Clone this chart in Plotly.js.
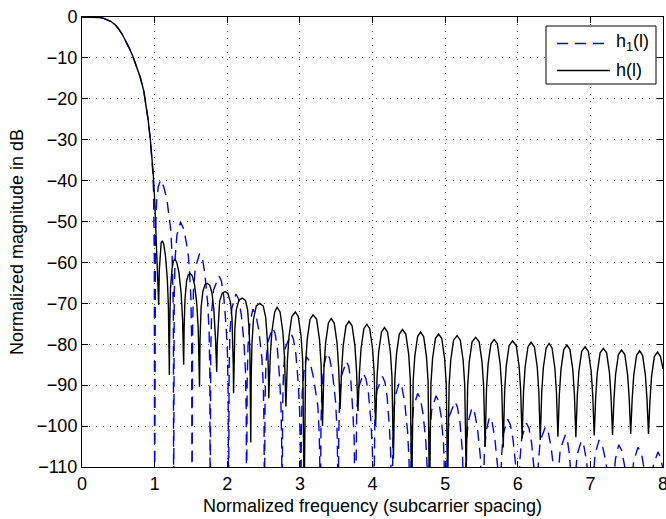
<!DOCTYPE html>
<html>
<head>
<meta charset="utf-8">
<script src="https://cdn.plot.ly/plotly-3.0.1.min.js"></script>
<style>
  html, body { margin: 0; padding: 0; background: #ffffff; }
  #chart { width: 666px; height: 519px; }
</style>
</head>
<body>
<div id="chart"></div>
<script>
// Values (normalized frequency, magnitude in dB)
var mainLobeFreq = [0, 0.1, 0.2, 0.25, 0.3, 0.35, 0.4, 0.45, 0.5, 0.55, 0.6, 0.65, 0.7, 0.75, 0.8, 0.85, 0.88, 0.91, 0.94, 0.96];
var mainLobeDb   = [0, 0, -0.05, -0.15, -0.35, -0.65, -1.1, -1.8, -2.8, -4.1, -5.8, -7.6, -9.6, -12.0, -14.6, -18.0, -21.3, -25.0, -29.8, -33.8];

// h(l): black solid curve, sidelobes after the main lobe
var hTailFreq = [
  0.98, 1.0, 1.02, 1.04, 1.056,
  1.064, 1.075, 1.09, 1.106, 1.125, 1.15, 1.175, 1.19, 1.197, 1.203,
  1.208, 1.218, 1.24, 1.26, 1.281, 1.305, 1.335, 1.365, 1.385, 1.395, 1.400,
  1.406, 1.418, 1.44, 1.465, 1.492, 1.52, 1.55, 1.58, 1.60, 1.612, 1.618,
  1.625, 1.64, 1.665, 1.695, 1.726, 1.76, 1.79, 1.815, 1.838, 1.848, 1.855,
  1.862, 1.875, 1.895, 1.93, 1.97, 2.01, 2.045, 2.065, 2.077, 2.083, 2.087,
  2.094, 2.105, 2.125, 2.16, 2.206, 2.25, 2.28, 2.30, 2.312, 2.319, 2.324,
  2.330, 2.340, 2.36, 2.40, 2.447, 2.495, 2.53, 2.552, 2.564, 2.572,
  2.592, 2.614, 2.653, 2.686, 2.727, 2.766, 2.788, 2.808,
  2.828, 2.85, 2.889, 2.938, 2.978, 3.017, 3.039, 3.059,
  3.079, 3.101, 3.14, 3.182, 3.231, 3.27, 3.292, 3.312,
  3.332, 3.354, 3.393, 3.432, 3.473, 3.512, 3.534, 3.554,
  3.574, 3.596, 3.635, 3.676, 3.719, 3.758, 3.78, 3.80,
  3.82, 3.842, 3.881, 3.921, 3.962, 4.001, 4.023, 4.043,
  4.063, 4.085, 4.124, 4.165, 4.207, 4.246, 4.268, 4.288,
  4.308, 4.33, 4.369, 4.413, 4.459, 4.498, 4.52, 4.54,
  4.56, 4.582, 4.621, 4.662, 4.704, 4.743, 4.765, 4.785,
  4.805, 4.827, 4.866, 4.91, 4.954, 4.993, 5.015, 5.035,
  5.055, 5.077, 5.116, 5.165, 5.209, 5.248, 5.27, 5.29,
  5.31, 5.332, 5.371, 5.42, 5.469, 5.508, 5.53, 5.55,
  5.57, 5.592, 5.631, 5.675, 5.719, 5.758, 5.78, 5.80,
  5.82, 5.842, 5.881, 5.928, 5.979, 6.018, 6.04, 6.06,
  6.08, 6.102, 6.141, 6.183, 6.229, 6.268, 6.29, 6.31,
  6.33, 6.352, 6.391, 6.432, 6.472, 6.511, 6.533, 6.553,
  6.573, 6.595, 6.634, 6.677, 6.719, 6.758, 6.78, 6.80,
  6.82, 6.842, 6.881, 6.927, 6.972, 7.011, 7.033, 7.053,
  7.073, 7.095, 7.134, 7.179, 7.224, 7.263, 7.285, 7.305,
  7.325, 7.347, 7.386, 7.43, 7.474, 7.513, 7.535, 7.555,
  7.575, 7.597, 7.636, 7.678, 7.719, 7.758, 7.78, 7.80,
  7.82, 7.842, 7.881, 7.925, 7.965, 8.0
];
var hTailDb = [
  -38.0, -44.5, -53, -63.5, -70.4,
  -62, -57.5, -55.2, -54.7, -55.5, -58.5, -64, -71, -78, -87.5,
  -75, -66.5, -61.5, -59.6, -59.2, -60, -62.5, -67.5, -74, -80, -85,
  -76, -69, -64.5, -63, -62.7, -63.3, -65.5, -70, -76, -83, -90.4,
  -79, -71, -67, -65.4, -65.1, -65.6, -67.5, -71.5, -78.5, -83, -86.7,
  -80, -74, -69.5, -67.5, -67.1, -67.6, -69.8, -73.5, -80, -85, -92,
  -82, -76, -71.5, -69.2, -68.7, -69.3, -71.5, -76, -82, -90, -104,
  -88, -80, -74, -70.6, -70, -70.6, -73.5, -79, -85, -93.2,
  -83, -77, -72.1, -71.0, -72.1, -77, -83, -95.2,
  -84.1, -78.1, -73.2, -72.1, -73.2, -78.1, -84.1, -118,
  -84.8, -78.8, -73.9, -72.8, -73.9, -78.8, -84.8, -100,
  -85.7, -79.7, -74.8, -73.7, -74.8, -79.7, -85.7, -95.8,
  -86.4, -80.4, -75.5, -74.4, -75.5, -80.4, -86.4, -96.3,
  -87.1, -81.1, -76.2, -75.1, -76.2, -81.1, -87.1, -100,
  -87.9, -81.9, -77, -75.9, -77, -81.9, -87.9, -108,
  -88.4, -82.4, -77.5, -76.4, -77.5, -82.4, -88.4, -118,
  -89, -83, -78.1, -77, -78.1, -83, -89, -118,
  -89.5, -83.5, -78.6, -77.5, -78.6, -83.5, -89.5, -114,
  -89.9, -83.9, -79, -77.9, -79, -83.9, -89.9, -112,
  -90.3, -84.3, -79.4, -78.3, -79.4, -84.3, -90.3, -105,
  -90.8, -84.8, -79.9, -78.8, -79.9, -84.8, -90.8, -105.2,
  -91.2, -85.2, -80.3, -79.2, -80.3, -85.2, -91.2, -103,
  -91.5, -85.5, -80.6, -79.5, -80.6, -85.5, -91.5, -103.4,
  -91.8, -85.8, -80.9, -79.8, -80.9, -85.8, -91.8, -102.6,
  -92.2, -86.2, -81.3, -80.2, -81.3, -86.2, -92.2, -102.7,
  -92.6, -86.6, -81.7, -80.6, -81.7, -86.6, -92.6, -102.3,
  -93, -87, -82.1, -81, -82.1, -87, -93, -102.2,
  -93.4, -87.4, -82.5, -81.4, -82.5, -87.4, -93.4, -101.9,
  -93.6, -87.6, -82.7, -81.6, -82.7, -87.6, -93.6, -101.9,
  -93.9, -87.9, -83, -81.9, -83, -86
];

// h1(l): blue dashed curve, sidelobes after the main lobe
var h1TailFreq = [
  0.975, 0.985, 0.992, 0.996, 1.0,
  1.006, 1.012, 1.028, 1.05, 1.084, 1.125, 1.167, 1.20, 1.222, 1.24, 1.252, 1.258, 1.262,
  1.27, 1.282, 1.307, 1.357, 1.40, 1.436, 1.465, 1.48, 1.50, 1.51, 1.515,
  1.523, 1.535, 1.56, 1.62, 1.66, 1.692, 1.73, 1.75, 1.76, 1.765,
  1.773, 1.785, 1.81, 1.887, 1.92, 1.952, 1.983, 2.003, 2.013, 2.018,
  2.026, 2.038, 2.063, 2.12, 2.157, 2.193, 2.231, 2.251, 2.261, 2.266,
  2.274, 2.286, 2.311, 2.353, 2.393, 2.433, 2.477, 2.497, 2.507, 2.512,
  2.52, 2.532, 2.557, 2.626, 2.658, 2.69, 2.72, 2.74, 2.75, 2.755,
  2.763, 2.775, 2.80, 2.878, 2.911, 2.945, 2.977, 2.997, 3.007, 3.012,
  3.02, 3.032, 3.057, 3.09, 3.138, 3.186, 3.247, 3.267, 3.277, 3.282,
  3.29, 3.302, 3.327, 3.37, 3.409, 3.449, 3.492, 3.512, 3.522, 3.527,
  3.535, 3.547, 3.572, 3.643, 3.673, 3.703, 3.728, 3.748, 3.763,
  3.771, 3.783, 3.808, 3.875, 3.91, 3.945, 3.979, 3.999, 4.014,
  4.022, 4.034, 4.059, 4.138, 4.17, 4.202, 4.231, 4.251, 4.266,
  4.274, 4.286, 4.311, 4.37, 4.407, 4.444, 4.483, 4.503, 4.518,
  4.526, 4.538, 4.563, 4.622, 4.659, 4.696, 4.735, 4.755, 4.77,
  4.778, 4.79, 4.815, 4.875, 4.91, 4.945, 4.979, 4.999, 5.014,
  5.022, 5.034, 5.059, 5.135, 5.169, 5.204, 5.237, 5.257, 5.272,
  5.28, 5.292, 5.317, 5.37, 5.407, 5.445, 5.485, 5.505, 5.52,
  5.528, 5.54, 5.565, 5.61, 5.647, 5.683, 5.722, 5.742, 5.757,
  5.765, 5.777, 5.802, 5.86, 5.897, 5.935, 5.975, 5.995, 6.01,
  6.018, 6.03, 6.055, 6.12, 6.156, 6.192, 6.228, 6.263,
  6.271, 6.283, 6.308, 6.38, 6.42, 6.46, 6.505, 6.54,
  6.548, 6.56, 6.585, 6.655, 6.684, 6.714, 6.737, 6.772,
  6.78, 6.792, 6.817, 6.875, 6.911, 6.948, 6.985, 7.02,
  7.028, 7.04, 7.065, 7.12, 7.165, 7.21, 7.265, 7.30,
  7.308, 7.32, 7.345, 7.39, 7.43, 7.47, 7.515, 7.55,
  7.558, 7.57, 7.595, 7.655, 7.701, 7.738, 7.785, 7.82,
  7.828, 7.84, 7.865, 7.93, 7.965, 8.0
];
var h1TailDb = [
  -38, -42.5, -49, -60, -125,
  -62, -52, -45, -41.5, -39.8, -41.5, -44.3, -48.5, -52, -58, -66, -72, -125,
  -68, -59, -53.3, -50.1, -51.8, -55.1, -58.5, -62, -69, -79, -125,
  -75.8, -66.8, -61.3, -57.8, -59.2, -62.8, -69.8, -76.8, -86.8, -125,
  -81.3, -72.3, -66.8, -63.3, -64.6, -68.3, -75.3, -82.3, -92.3, -125,
  -85.7, -76.7, -71.2, -67.7, -69, -72.7, -79.7, -86.7, -96.7, -125,
  -89.4, -80.4, -74.9, -71.4, -72.7, -76.4, -83.4, -90.4, -100.4, -125,
  -94, -85, -79.5, -76, -77.3, -81, -88, -95, -105, -125,
  -95.4, -86.4, -80.9, -77.4, -78.7, -82.4, -89.4, -96.4, -106.4, -125,
  -101, -92, -86.5, -83, -84.3, -88, -95, -102, -112, -125,
  -100.1, -91.1, -85.6, -82.1, -83.4, -87.1, -94.1, -101.1, -111.1, -125,
  -102.2, -93.2, -87.7, -84.2, -85.5, -89.2, -96.2, -103.2, -125,
  -105.1, -96.1, -90.6, -87.1, -88.4, -92.1, -99.1, -106.1, -125,
  -105.9, -96.9, -91.4, -87.9, -89.2, -92.9, -99.9, -106.9, -125,
  -107.3, -98.3, -92.8, -89.3, -90.6, -94.3, -101.3, -108.3, -125,
  -110, -101, -95.5, -92, -93.3, -97, -104, -111, -125,
  -110.6, -101.6, -96.1, -92.6, -93.9, -97.6, -104.6, -111.6, -125,
  -112, -103, -97.5, -94, -95.3, -99, -106, -113, -125,
  -113.5, -104.5, -99, -95.5, -96.8, -100.5, -107.5, -114.5, -125,
  -115.8, -106.8, -101.3, -97.8, -99.1, -102.8, -109.8, -116.8, -125,
  -116.3, -107.3, -101.8, -98.3, -99.6, -103.3, -110.3, -117.3, -125,
  -117.3, -108.3, -102.8, -99.3, -100.6, -104.3, -111.3, -125,
  -118.2, -109.2, -103.7, -100.2, -101.5, -105.2, -112.2, -125,
  -120.2, -111.2, -105.7, -102.2, -103.5, -107.2, -114.2, -125,
  -121.6, -112.6, -107.1, -103.6, -104.9, -108.6, -115.6, -125,
  -121.4, -112.4, -106.9, -103.4, -104.7, -108.4, -115.4, -125,
  -122.6, -113.6, -108.1, -104.6, -105.9, -109.6, -116.6, -125,
  -123.2, -114.2, -108.7, -105.2, -106.5, -110.2, -117.2, -125,
  -124.3, -115.3, -109.8, -106.3, -107.6, -110.5
];

var seriesNames = ['h<sub>1</sub>(l)', 'h(l)'];
var xTickVals = [0, 1, 2, 3, 4, 5, 6, 7, 8];
var yTickVals = [0, -10, -20, -30, -40, -50, -60, -70, -80, -90, -100, -110];

var FONT = 'Liberation Sans, Arial, Helvetica, sans-serif';
var BLUE = '#0000ff';
var DASH = '11px,7px';

var traceH1 = {
  x: mainLobeFreq.concat(h1TailFreq),
  y: mainLobeDb.concat(h1TailDb),
  type: 'scatter', mode: 'lines', name: seriesNames[0], showlegend: false,
  line: { color: BLUE, width: 1.4, dash: DASH }
};
var traceH = {
  x: mainLobeFreq.concat(hTailFreq),
  y: mainLobeDb.concat(hTailDb),
  type: 'scatter', mode: 'lines', name: seriesNames[1], showlegend: false,
  line: { color: '#000000', width: 1.4 }
};

// plot area in pixels: x 82..663, y 17..467
function px(x) { return (x - 82) / 581; }
function py(y) { return (467 - y) / 450; }

var layout = {
  width: 666, height: 519,
  margin: { l: 82, r: 3, t: 17, b: 52, pad: 0 },
  paper_bgcolor: '#ffffff', plot_bgcolor: '#ffffff',
  font: { family: FONT, size: 18, color: '#000000' },
  showlegend: false,
  xaxis: {
    range: [0, 8], tickvals: xTickVals, ticktext: xTickVals.map(String),
    ticks: 'inside', ticklen: 6, tickwidth: 1, tickcolor: '#000',
    showline: true, linecolor: '#000', linewidth: 1, mirror: 'ticks',
    showgrid: true, gridcolor: '#555', gridwidth: 1, griddash: '1px,6px',
    zeroline: false, automargin: false, ticklabeloverflow: 'allow',
    tickfont: { family: FONT, size: 18, color: '#000' },
    title: { text: 'Normalized frequency (subcarrier spacing)', font: { family: FONT, size: 18, color: '#000' }, standoff: 6 }
  },
  yaxis: {
    range: [-110, 0], tickvals: yTickVals, ticktext: yTickVals.map(function (v) { return v === 0 ? '0' : '\u2212' + Math.abs(v); }),
    ticks: 'inside', ticklen: 6, tickwidth: 1, tickcolor: '#000',
    showline: true, linecolor: '#000', linewidth: 1, mirror: 'ticks',
    showgrid: true, gridcolor: '#555', gridwidth: 1, griddash: '1px,6px',
    zeroline: false, automargin: false, ticklabeloverflow: 'allow',
    tickfont: { family: FONT, size: 18, color: '#000' },
    title: { text: 'Normalized magnitude in dB', font: { family: FONT, size: 18, color: '#000' }, standoff: 8 }
  },
  shapes: [
    { type: 'rect', xref: 'paper', yref: 'paper', x0: px(546), x1: px(656), y0: py(84), y1: py(26),
      fillcolor: '#ffffff', line: { color: '#000', width: 1 }, layer: 'above' },
    { type: 'line', xref: 'paper', yref: 'paper', x0: px(557), x1: px(610), y0: py(43.5), y1: py(43.5),
      line: { color: BLUE, width: 1.4, dash: DASH }, layer: 'above' },
    { type: 'line', xref: 'paper', yref: 'paper', x0: px(557), x1: px(610), y0: py(70.5), y1: py(70.5),
      line: { color: '#000', width: 1.4 }, layer: 'above' }
  ],
  annotations: [
    { xref: 'paper', yref: 'paper', x: px(614), y: py(42), xanchor: 'left', yanchor: 'middle',
      text: seriesNames[0], showarrow: false, font: { family: FONT, size: 18, color: '#000' } },
    { xref: 'paper', yref: 'paper', x: px(614), y: py(70), xanchor: 'left', yanchor: 'middle',
      text: seriesNames[1], showarrow: false, font: { family: FONT, size: 18, color: '#000' } }
  ]
};

Plotly.newPlot('chart', [traceH1, traceH], layout, { staticPlot: true, displayModeBar: false });
</script>
</body>
</html>
